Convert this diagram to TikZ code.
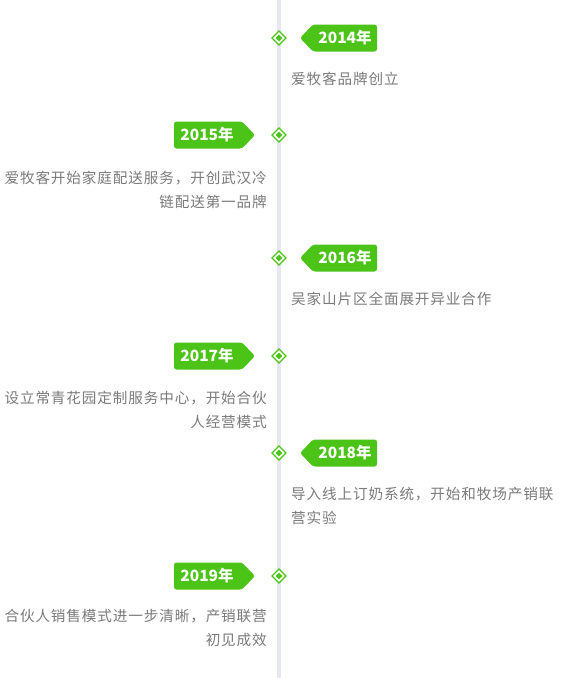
\documentclass[tikz,border=0pt]{standalone}
\usepackage{fontspec}
\usetikzlibrary{calc}
\newfontfamily\cjk{Noto Sans CJK SC}
\newfontfamily\cjkd{Noto Sans CJK SC}[LetterSpace=6]
\definecolor{tg}{HTML}{4CC417}
\definecolor{ln}{HTML}{E6E8EF}
\definecolor{tx}{HTML}{7A7A7A}
\begin{document}
\begin{tikzpicture}[x=1pt,y=-1pt,
  desc/.style={font=\cjkd\fontsize{14.6}{23.8}\selectfont, text=tx, inner sep=0pt},
  yr/.style={font=\cjk\bfseries\fontsize{15.5}{16}\selectfont, text=white, inner sep=0pt},
  dm/.style={draw=tg, line width=1.1pt, fill=white}]
\useasboundingbox (0,0) rectangle (562,678);
\coordinate (top) at (279,0);
\coordinate (bot) at (279,678);
\draw[ln, line width=3.5pt] (top) -- (bot);
% diamonds
\foreach \n/\y in {a/38,b/135,c/258,d/356,e/453,f/576}{
  \coordinate (\n) at (279,\y);
  \draw[dm] ($(\n)+(-7,0)$) -- ($(\n)+(0,-7)$) -- ($(\n)+(7,0)$) -- ($(\n)+(0,7)$) -- cycle;
  \fill[tg] ($(\n)+(-3.3,0)$) -- ($(\n)+(0,-3.3)$) -- ($(\n)+(3.3,0)$) -- ($(\n)+(0,3.3)$) -- cycle;
}
% right tags
\foreach \n/\y/\t in {ra/38/2014年,rc/258/2016年,re/453/2018年}{
  \fill[tg, rounded corners=2.5pt] (300,\y) -- (313,\y-13.5) -- (377,\y-13.5) -- (377,\y+13.5) -- (313,\y+13.5) -- cycle;
  \node[yr] (\n) at (345,\y) {\t};
}
% left tags
\foreach \n/\y/\t in {lb/135/2015年,ld/356/2017年,lf/576/2019年}{
  \fill[tg, rounded corners=2.5pt] (255,\y) -- (242,\y-13.5) -- (174,\y-13.5) -- (174,\y+13.5) -- (242,\y+13.5) -- cycle;
  \node[yr] (\n) at (207,\y) {\t};
}
% descriptions
\node[desc, anchor=west] (da) at (291,79) {爱牧客品牌创立};
\node[desc, anchor=north east, align=right] (db) at (267,171) {爱牧客开始家庭配送服务，开创武汉冷\\链配送第一品牌};
\node[desc, anchor=west] (dc) at (291,299) {吴家山片区全面展开异业合作};
\node[desc, anchor=north east, align=right] (dd) at (267,391) {设立常青花园定制服务中心，开始合伙\\人经营模式};
\node[desc, anchor=north west, align=left] (de) at (291,487) {导入线上订奶系统，开始和牧场产销联\\营实验};
\node[desc, anchor=north east, align=right] (df) at (267,609) {合伙人销售模式进一步清晰，产销联营\\初见成效};
\end{tikzpicture}
\end{document}
